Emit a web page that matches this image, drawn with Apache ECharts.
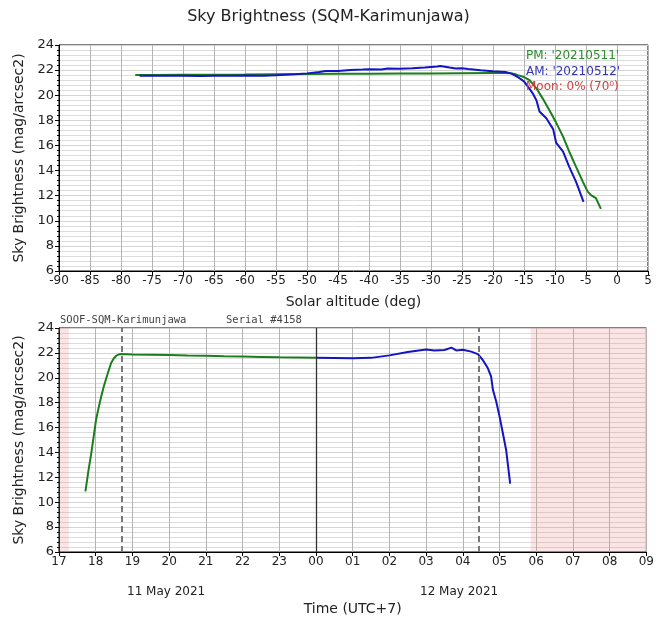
<!DOCTYPE html>
<html>
<head>
<meta charset="utf-8">
<script src="https://cdn.jsdelivr.net/npm/echarts@6/dist/echarts.min.js"></script>
<style>
  html, body { margin: 0; padding: 0; background: #fff; }
  #chart { width: 657px; height: 622px; }
</style>
</head>
<body>
<div id="chart"></div>
<script>
// top panel: solar altitude (deg) vs sky brightness
const pmAltitude = [-77.7, -75, -70, -65, -60, -55, -50, -45, -40, -35, -30, -25, -20, -18, -17, -16.5, -16, -15, -14.1, -13, -12, -10.9, -9.8, -8.7, -7.7, -6.6, -5.5, -4.7, -4.2, -3.4, -2.6]
const pmSky = [21.62, 21.62, 21.63, 21.64, 21.65, 21.67, 21.69, 21.71, 21.72, 21.73, 21.74, 21.75, 21.76, 21.76, 21.74, 21.7, 21.6, 21.45, 21.2, 20.55, 19.75, 18.8, 17.8, 16.7, 15.5, 14.3, 13.1, 12.3, 12.05, 11.8, 10.95]

const amAltitude = [-77, -75, -72, -70, -67, -65, -62, -60, -57, -55, -52, -50, -48, -47, -45, -43, -41, -40, -38, -37, -35, -33, -31, -29, -28.5, -27, -26, -25, -24, -22, -20, -18, -17, -16, -15, -14.1, -13.6, -13, -12.5, -11.4, -10.3, -9.8, -8.7, -7.7, -6.6, -6, -5.4]
const amSky = [21.55, 21.56, 21.55, 21.56, 21.53, 21.55, 21.56, 21.57, 21.56, 21.6, 21.68, 21.74, 21.85, 21.93, 21.92, 22.0, 22.04, 22.07, 22.05, 22.13, 22.1, 22.14, 22.2, 22.28, 22.33, 22.2, 22.12, 22.14, 22.08, 21.98, 21.9, 21.85, 21.72, 21.45, 21.1, 20.5, 20.15, 19.6, 18.7, 18.16, 17.3, 16.2, 15.5, 14.3, 13.1, 12.3, 11.5]

// bottom panel: local time (hours after 00 of 11 May, 24+ = 12 May)
const pmHour = [17.72, 17.8, 17.88, 17.95, 18.01, 18.08, 18.15, 18.22, 18.29, 18.36, 18.42, 18.49, 18.56, 18.62, 18.69, 19, 19.5, 20, 20.5, 21, 21.5, 22, 22.5, 23, 23.5, 24]
const pmSkyTime = [10.87, 12.5, 13.95, 15.4, 16.63, 17.6, 18.5, 19.3, 19.98, 20.65, 21.19, 21.55, 21.77, 21.87, 21.91, 21.88, 21.86, 21.84, 21.8, 21.77, 21.73, 21.7, 21.67, 21.64, 21.62, 21.6]

const amHour = [24, 24.5, 25, 25.5, 26, 26.5, 27, 27.23, 27.5, 27.69, 27.82, 28.0, 28.23, 28.41, 28.54, 28.68, 28.77, 28.82, 28.91, 29.0, 29.09, 29.18, 29.29]
const amSkyTime = [21.6, 21.58, 21.56, 21.6, 21.8, 22.07, 22.28, 22.2, 22.23, 22.42, 22.2, 22.25, 22.1, 21.9, 21.45, 20.78, 20.11, 19.03, 18.1, 16.9, 15.56, 14.2, 11.5]

const daylightBands = [[17, 17.27], [29.85, 33]]
const twilightLines = [18.72, 28.43]
const midnightLine = 24
const altitudeTicks = { min: -90, max: 5, interval: 5 }
const skyTicks = { min: 6, max: 24, interval: 2 }
const timeTicks = { min: 17, max: 33, interval: 1 }

const green = '#1b7d1b'
const blue = '#1414c4'
const font = 'DejaVu Sans'
const chart = echarts.init(document.getElementById('chart'))

const zip = (xs, ys) => xs.map((x, i) => [x, ys[i]])

function yAxisFor(idx) {
  return {
    gridIndex: idx,
    type: 'value',
    min: skyTicks.min,
    max: skyTicks.max,
    interval: skyTicks.interval,
    name: 'Sky Brightness (mag/arcsec2)',
    nameLocation: 'middle',
    nameGap: 33,
    nameTextStyle: { fontFamily: font, fontSize: 14, color: '#222' },
    axisLine: { show: true, onZero: false, lineStyle: { color: '#000', width: 1 } },
    axisTick: { show: true, length: 4, lineStyle: { color: '#000' } },
    minorTick: { show: true, splitNumber: 5, length: 2, lineStyle: { color: '#000' } },
    axisLabel: { fontFamily: font, fontSize: 13, color: '#222', margin: 5 },
    splitLine: { show: true, lineStyle: { color: '#d4d4d4', width: 1 } },
    minorSplitLine: { show: true, lineStyle: { color: '#dcdcdc', width: 1 } }
  }
}

const option = {
  animation: false,
  backgroundColor: '#fff',
  title: {
    text: 'Sky Brightness (SQM-Karimunjawa)',
    left: 'center',
    top: 4,
    textStyle: { fontFamily: font, fontSize: 16, fontWeight: 'normal', color: '#222' }
  },
  grid: [
    { left: 59, right: 9, top: 45, height: 226, show: true, borderColor: '#000', borderWidth: 1, backgroundColor: 'transparent' },
    { left: 59, right: 9, top: 328, height: 224, show: true, borderColor: '#000', borderWidth: 1, backgroundColor: 'transparent' }
  ],
  xAxis: [
    {
      gridIndex: 0,
      type: 'value',
      min: altitudeTicks.min,
      max: altitudeTicks.max,
      interval: altitudeTicks.interval,
      name: 'Solar altitude (deg)',
      nameLocation: 'middle',
      nameGap: 24,
      nameTextStyle: { fontFamily: font, fontSize: 14, color: '#222' },
      axisLine: { show: true, onZero: false, lineStyle: { color: '#000', width: 1 } },
      axisTick: { show: true, length: 4, lineStyle: { color: '#000' } },
      axisLabel: { fontFamily: font, fontSize: 12, color: '#222', margin: 4 },
      splitLine: { show: true, lineStyle: { color: '#b4b4b4', width: 1 } }
    },
    {
      gridIndex: 1,
      type: 'value',
      min: timeTicks.min,
      max: timeTicks.max,
      interval: timeTicks.interval,
      name: 'Time (UTC+7)',
      nameLocation: 'middle',
      nameGap: 50,
      nameTextStyle: { fontFamily: font, fontSize: 14, color: '#222' },
      axisLine: { show: true, onZero: false, lineStyle: { color: '#000', width: 1 } },
      axisTick: { show: true, length: 4, lineStyle: { color: '#000' } },
      axisLabel: {
        fontFamily: font, fontSize: 12, color: '#222', margin: 4,
        formatter: v => String(v % 24).padStart(2, '0')
      },
      splitLine: { show: true, lineStyle: { color: '#b4b4b4', width: 1 } }
    }
  ],
  yAxis: [yAxisFor(0), yAxisFor(1)],
  series: [
    {
      name: "PM: '20210511'",
      type: 'line',
      xAxisIndex: 0, yAxisIndex: 0,
      data: zip(pmAltitude, pmSky),
      showSymbol: false, symbol: 'none',
      lineStyle: { color: green, width: 2 },
      z: 3
    },
    {
      name: "AM: '20210512'",
      type: 'line',
      xAxisIndex: 0, yAxisIndex: 0,
      data: zip(amAltitude, amSky),
      showSymbol: false, symbol: 'none',
      lineStyle: { color: blue, width: 2 },
      z: 4
    },
    {
      name: 'pm-time',
      type: 'line',
      xAxisIndex: 1, yAxisIndex: 1,
      data: zip(pmHour, pmSkyTime),
      showSymbol: false, symbol: 'none',
      lineStyle: { color: green, width: 2 },
      z: 3,
      markArea: {
        silent: true,
        itemStyle: { color: 'rgba(235, 130, 130, 0.22)' },
        data: daylightBands.map(b => [{ xAxis: b[0] }, { xAxis: b[1] }])
      },
      markLine: {
        silent: true,
        symbol: 'none',
        label: { show: false },
        data: [
          ...twilightLines.map(h => ({ xAxis: h, lineStyle: { color: '#777', width: 2, type: [6, 4] } })),
          { xAxis: midnightLine, lineStyle: { color: '#333', width: 1.3, type: 'solid' } }
        ]
      }
    },
    {
      name: 'am-time',
      type: 'line',
      xAxisIndex: 1, yAxisIndex: 1,
      data: zip(amHour, amSkyTime),
      showSymbol: false, symbol: 'none',
      lineStyle: { color: blue, width: 2 },
      z: 4
    }
  ],
  graphic: [
    { type: 'text', left: 526, top: 50, z: 10, style: { text: "PM: '20210511'", fill: '#2e8b2e', font: '12px "DejaVu Sans"' } },
    { type: 'text', left: 526, top: 66, z: 10, style: { text: "AM: '20210512'", fill: '#3434b8', font: '12px "DejaVu Sans"' } },
    { type: 'text', left: 526, top: 81, z: 10, style: { text: 'Moon: 0% (70\u2070)', fill: '#d04040', font: '12px "DejaVu Sans"' } },
    { type: 'text', left: 60, top: 315, style: { text: 'SOOF-SQM-Karimunjawa', fill: '#444', font: '10.5px "DejaVu Sans Mono"' } },
    { type: 'text', left: 226, top: 315, style: { text: 'Serial #4158', fill: '#444', font: '10.5px "DejaVu Sans Mono"' } },
    { type: 'text', left: 127, top: 586, style: { text: '11 May 2021', fill: '#222', font: '12px "DejaVu Sans"' } },
    { type: 'text', left: 420, top: 586, style: { text: '12 May 2021', fill: '#222', font: '12px "DejaVu Sans"' } }
  ]
}

chart.setOption(option)
</script>
</body>
</html>
